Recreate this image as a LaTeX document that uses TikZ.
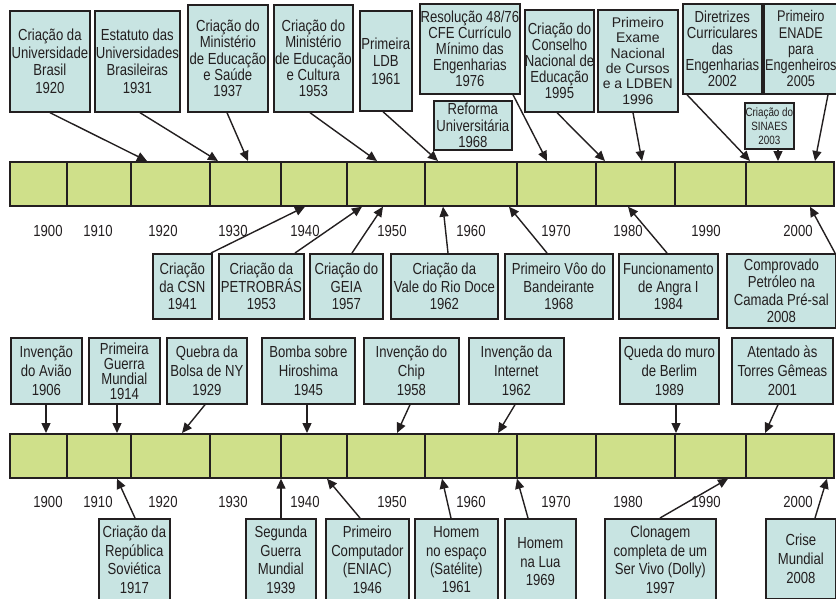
\documentclass[tikz,border=0pt]{standalone}
\usepackage{fontspec}
\setmainfont{Liberation Sans}[FakeStretch=0.82]
\newfontfamily\widefont{Liberation Sans}
\usetikzlibrary{arrows.meta,calc}
\definecolor{boxfill}{RGB}{200,228,226}
\definecolor{barfill}{RGB}{207,224,138}
\definecolor{ink}{RGB}{35,31,32}
\tikzset{
  eventbox/.style={draw=ink, line width=1.7pt, fill=boxfill, text=ink, align=center,
    inner sep=0pt, anchor=north west, font=\fontsize{16}{17.5}\selectfont},
  barbox/.style={draw=ink, line width=1.7pt, fill=barfill, anchor=north west,
    inner sep=0pt, minimum width=824, minimum height=44},
  divider/.style={draw=ink, line width=1.1pt},
  yearlbl/.style={text=ink, font=\fontsize{16}{17}\selectfont, inner sep=0pt},
  arr/.style={draw=ink, line width=1.4pt, -{Triangle[length=10pt,width=9pt]}},
  tight/.style={font=\fontsize{16}{16.2}\selectfont},
  loose/.style={font=\fontsize{16}{19}\selectfont},
  small/.style={font=\fontsize{12}{14}\selectfont},
  lowbox/.style={font=\fontsize{16}{18.4}\selectfont},
}
\newcommand\evbox[7][]{\node[eventbox,minimum width={#5-#3},minimum height={#6-#4},#1] (#2) at (#3,#4) {#7};}
\begin{document}
\begin{tikzpicture}[x=1pt,y=-1pt]
\clip (0,0) rectangle (836,598);
\fill[white] (0,0) rectangle (836,598);

% ---------- bars ----------
\node[barbox] (bar1) at (9,161) {};
\node[barbox] (bar2) at (9,433) {};
\foreach \d in {58,122,201,272,338,416,508,587,666,737}{
  \draw[divider] ($(bar1.north west)+(\d,0)$) -- ($(bar1.south west)+(\d,0)$);
  \draw[divider] ($(bar2.north west)+(\d,0)$) -- ($(bar2.south west)+(\d,0)$);
}
\foreach \yr/\xx [count=\i] in {1900/48,1910/98,1920/163,1930/233,1940/305,1950/392,1960/471,1970/556,1980/628,1990/706,2000/798}{
  \node[yearlbl] (ya\i) at (\xx,231) {\yr};
  \node[yearlbl] (yb\i) at (\xx,502) {\yr};
}

% ---------- top half, upper boxes ----------
\evbox{A1}{9}{10}{89}{111}{Criação da\\Universidade\\Brasil\\1920}
\evbox{A2}{94}{10}{179}{111}{Estatuto das\\Universidades\\Brasileiras\\1931}
\evbox[tight]{A3}{187}{4}{267}{111}{Criação do\\Ministério\\de Educação\\e Saúde\\1937}
\evbox[tight]{A4}{273}{4}{352}{111}{Criação do\\Ministério\\de Educação\\e Cultura\\1953}
\evbox{A5}{359}{10}{411}{110}{Primeira\\LDB\\1961}
\evbox[tight]{A6}{419}{3}{519}{93}{Resolução 48/76\\CFE Currículo\\Mínimo das\\Engenharias\\1976}
\evbox[tight]{A7}{433}{100}{511}{149}{Reforma\\Universitária\\1968}
\evbox[tight]{A8}{524}{9}{590}{111}{Criação do\\Conselho\\Nacional de\\Educação\\1995}
\evbox[font=\widefont\fontsize{14}{15.3}\selectfont]{A9}{597}{9}{677}{111}{Primeiro\\Exame\\Nacional\\de Cursos\\e a LDBEN\\1996}
\evbox[tight]{A10}{682}{3}{761}{93}{Diretrizes\\Curriculares\\das\\Engenharias\\2002}
\evbox[font=\fontsize{15.5}{16.2}\selectfont]{A11}{763}{3}{837}{93}{Primeiro\\ENADE\\para\\Engenheiros\\2005}
\evbox[small]{A12}{744}{102}{793}{148}{Criação do\\SINAES\\2003}

\draw[arr] ($(A1.south west)+(41,0)$) -- ($(bar1.north west)+(138,0)$);
\draw[arr] ($(A2.south west)+(46,0)$) -- ($(bar1.north west)+(209,0)$);
\draw[arr] ($(A3.south west)+(40,0)$) -- ($(bar1.north west)+(239,0)$);
\draw[arr] ($(A4.south west)+(37,0)$) -- ($(bar1.north west)+(368,0)$);
\draw[arr] ($(A5.south west)+(24,0)$) -- ($(bar1.north west)+(429,0)$);
\draw[arr] ($(A6.south west)+(94,0)$) -- ($(bar1.north west)+(538,0)$);
\draw[arr] ($(A8.south west)+(33,0)$) -- ($(bar1.north west)+(596,0)$);
\draw[arr] ($(A9.south west)+(36,0)$) -- ($(bar1.north west)+(633,0)$);
\draw[arr] ($(A10.south west)+(5,0)$) -- ($(bar1.north west)+(741,0)$);
\draw[arr] ($(A12.south west)+(34,0)$) -- ($(bar1.north west)+(769,0)$);
\draw[arr] ($(A11.south west)+(65,0)$) -- ($(bar1.north west)+(806,0)$);

% ---------- top half, lower boxes ----------
\evbox{B1}{152}{253}{211}{318}{Criação\\da CSN\\1941}
\evbox{B2}{218}{253}{303}{318}{Criação da\\PETROBRÁS\\1953}
\evbox{B3}{309}{253}{382}{318}{Criação do\\GEIA\\1957}
\evbox{B4}{390}{253}{497}{318}{Criação da\\Vale do Rio Doce\\1962}
\evbox{B5}{504}{253}{612}{318}{Primeiro Vôo do\\Bandeirante\\1968}
\evbox{B6}{618}{253}{717}{318}{Funcionamento\\de Angra I\\1984}
\evbox{B7}{726}{253}{835}{327}{Comprovado\\Petróleo na\\Camada Pré-sal\\2008}

\draw[arr] ($(B1.north west)+(59,0)$) -- ($(bar1.south west)+(296,0)$);
\draw[arr] ($(B2.north west)+(77,0)$) -- ($(bar1.south west)+(353,0)$);
\draw[arr] ($(B3.north west)+(43,0)$) -- ($(bar1.south west)+(374,0)$);
\draw[arr] ($(B4.north west)+(58,0)$) -- ($(bar1.south west)+(434,0)$);
\draw[arr] ($(B5.north west)+(43,0)$) -- ($(bar1.south west)+(500,0)$);
\draw[arr] ($(B6.north west)+(49,0)$) -- ($(bar1.south west)+(619,0)$);
\draw[arr] ($(B7.north west)+(109,0)$) -- ($(bar1.south west)+(801,0)$);

% ---------- bottom half, upper boxes ----------
\evbox[loose]{C1}{10}{337}{81}{403}{Invenção\\do Avião\\1906}
\evbox[font=\fontsize{16}{15}\selectfont]{C2}{88}{337}{159}{403}{Primeira\\Guerra\\Mundial\\1914}
\evbox[loose]{C3}{166}{337}{246}{403}{Quebra da\\Bolsa de NY\\1929}
\evbox[loose]{C4}{261}{337}{354}{403}{Bomba sobre\\Hiroshima\\1945}
\evbox[loose]{C5}{363}{337}{458}{403}{Invenção do\\Chip\\1958}
\evbox[loose]{C6}{468}{337}{563}{403}{Invenção da\\Internet\\1962}
\evbox[loose]{C7}{619}{337}{718}{403}{Queda do muro\\de Berlim\\1989}
\evbox[loose]{C8}{731}{337}{832}{403}{Atentado às\\Torres Gêmeas\\2001}

\draw[arr] ($(C1.south west)+(36,0)$) -- ($(bar2.north west)+(37,0)$);
\draw[arr] ($(C2.south west)+(29,0)$) -- ($(bar2.north west)+(108,0)$);
\draw[arr] ($(C3.south west)+(39,0)$) -- ($(bar2.north west)+(173,0)$);
\draw[arr] ($(C4.south west)+(46,0)$) -- ($(bar2.north west)+(298,0)$);
\draw[arr] ($(C5.south west)+(47,0)$) -- ($(bar2.north west)+(388,0)$);
\draw[arr] ($(C6.south west)+(47,0)$) -- ($(bar2.north west)+(489,0)$);
\draw[arr] ($(C7.south west)+(57,0)$) -- ($(bar2.north west)+(667,0)$);
\draw[arr] ($(C8.south west)+(47,0)$) -- ($(bar2.north west)+(756,0)$);

% ---------- bottom half, lower boxes ----------
\evbox[lowbox]{D1}{98}{518}{169}{600}{Criação da\\República\\Soviética\\1917}
\evbox[lowbox]{D2}{245}{518}{315}{600}{Segunda\\Guerra\\Mundial\\1939}
\evbox[lowbox]{D3}{325}{518}{408}{600}{Primeiro\\Computador\\(ENIAC)\\1946}
\evbox[lowbox]{D4}{414}{518}{497}{600}{Homem\\no espaço\\(Satélite)\\1961}
\evbox[lowbox]{D5}{504}{518}{575}{604}{Homem\\na Lua\\1969}
\evbox[lowbox]{D6}{604}{518}{715}{600}{Clonagem\\completa de um\\Ser Vivo (Dolly)\\1997}
\evbox[loose]{D7}{765}{518}{835}{598}{Crise\\Mundial\\2008}

\draw[arr] ($(D1.north west)+(37,0)$) -- ($(bar2.south west)+(108,0)$);
\draw[arr] ($(D2.north west)+(36,0)$) -- ($(bar2.south west)+(272,0)$);
\draw[arr] ($(D3.north west)+(35,0)$) -- ($(bar2.south west)+(318,0)$);
\draw[arr] ($(D4.north west)+(37,0)$) -- ($(bar2.south west)+(433,0)$);
\draw[arr] ($(D5.north west)+(24,0)$) -- ($(bar2.south west)+(508,0)$);
\draw[arr] ($(D6.north west)+(56,0)$) -- ($(bar2.south west)+(719,0)$);
\draw[arr] ($(D7.north west)+(50,0)$) -- ($(bar2.south west)+(818,0)$);
\end{tikzpicture}
\end{document}
